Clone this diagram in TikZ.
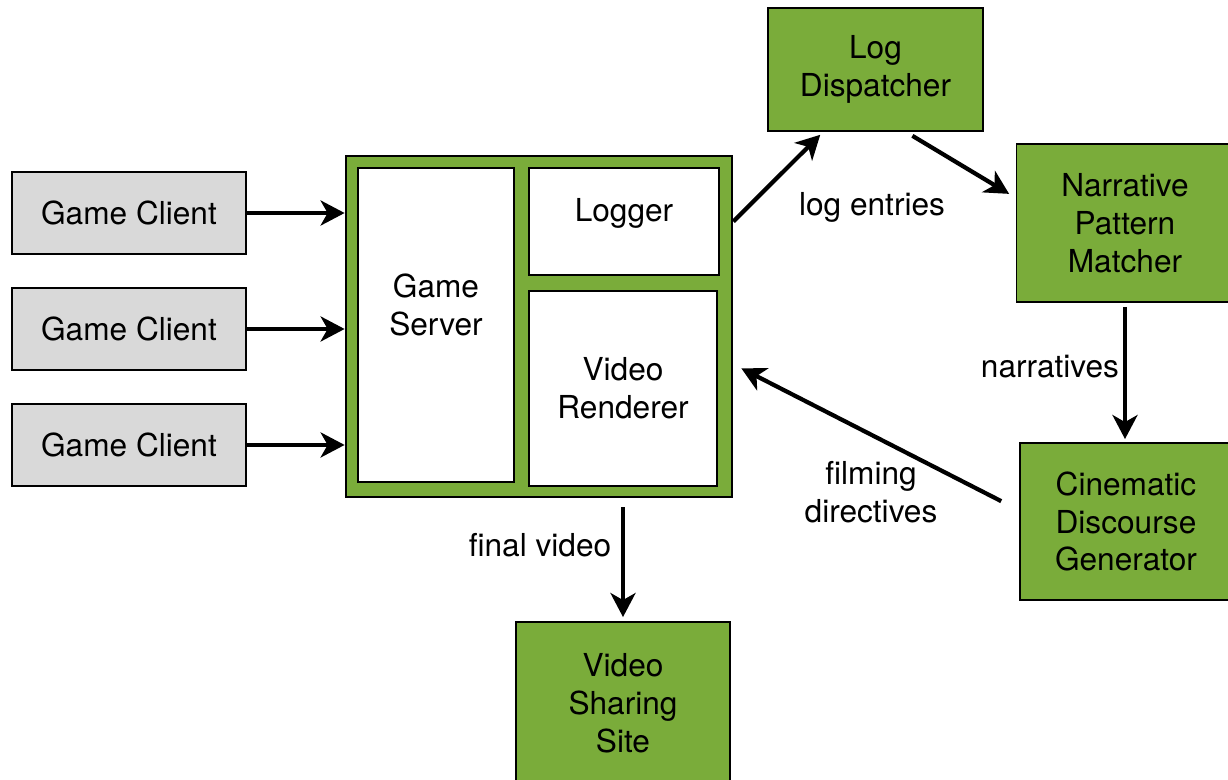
\documentclass[tikz,border=0pt]{standalone}
\usepackage{fontspec}
\setmainfont{TeX Gyre Heros}
\usetikzlibrary{arrows.meta}
\definecolor{leafgreen}{RGB}{122,172,58}
\definecolor{clientgray}{RGB}{217,217,217}

\begin{document}
\begin{tikzpicture}[
        x=0.02cm, y=-0.02cm,              % 1 单位 = 参考图 1 像素
        node distance=2.32cm,
        every node/.style={
            font=\fontsize{18}{21.6}\selectfont,
            align=center
        },
        box/.style={rectangle, draw, line width=1.1pt, inner sep=0pt},
        client/.style={box, fill=clientgray, minimum width=4.68cm, minimum height=1.64cm},
        module/.style={box, fill=white},
        stage/.style={box, fill=leafgreen},
        lbl/.style={inner sep=0pt},
        >={Stealth[length=0.48cm, width=0.5cm, inset=0.14cm]},
        arrow/.style={->, line width=2.4pt}
    ]
    \useasboundingbox (0,0) rectangle (1228,779);

    % 客户端
    \node[client] (c1) at (129,213) {Game Client};
    \node[client] (c2) [below of=c1] {Game Client};
    \node[client] (c3) [below of=c2] {Game Client};

    % 服务器及其模块
    \node[stage, line width=1.6pt, minimum width=7.72cm, minimum height=6.82cm] (server) at (539,326.5) {};
    \node[module, minimum width=3.12cm, minimum height=6.28cm,
          label={[yshift=0.4cm]center:Game\\Server}] (gameserver) at (436,325) {};
    \node[module, minimum width=3.8cm, minimum height=2.14cm,
          label={[yshift=0.16cm]center:Logger}] (logger) at (624,221.5) {};
    \node[module, minimum width=3.76cm, minimum height=3.9cm] (renderer) at (623,388.5) {Video\\Renderer};

    % 处理流程
    \node[stage, minimum width=4.3cm, minimum height=2.46cm] (logd) at (875.5,69.5) {Log\\Dispatcher};
    \node[stage, minimum width=4.34cm, minimum height=3.16cm] (npm) at (1125,223) {Narrative\\Pattern\\Matcher};
    \node[stage, minimum width=4.24cm, minimum height=3.14cm] (cdg) at (1126,521.5) {Cinematic\\Discourse\\Generator};
    \node[stage, minimum width=4.28cm, minimum height=3.24cm] (vss) at (623,703) {Video\\Sharing\\Site};

    % 边
    \draw[arrow] (c1.east) -- (c1.east -| server.west);
    \draw[arrow] (c2.east) -- (c2.east -| server.west);
    \draw[arrow] (c3.east) -- (c3.east -| server.west);
    \draw[arrow, shorten >=0.08cm] (server.east |- logger.east) -- (logd.230);
    \draw[arrow, shorten <=0.15cm, shorten >=0.15cm] (logd.-64) -- (npm.167);
    \draw[arrow, shorten <=0.08cm, shorten >=0.06cm] (npm.south) -- (npm.south |- cdg.north);
    \draw[arrow, shorten <=0.4cm, shorten >=0.18cm] (cdg.174.8) -- (server.-11);
    \draw[arrow, shorten <=0.18cm, shorten >=0.08cm] (server.south -| vss.north) -- (vss.north);

    % 边标签
    \node[lbl] (logentries) at (872,207) {log entries};
    \node[lbl] (narratives) at (1050,367) {narratives};
    \node[lbl] (filming) at (871,492) {filming\\directives};
    \node[lbl] (finalvideo) at (540,545) {final video};
\end{tikzpicture}
\end{document}
